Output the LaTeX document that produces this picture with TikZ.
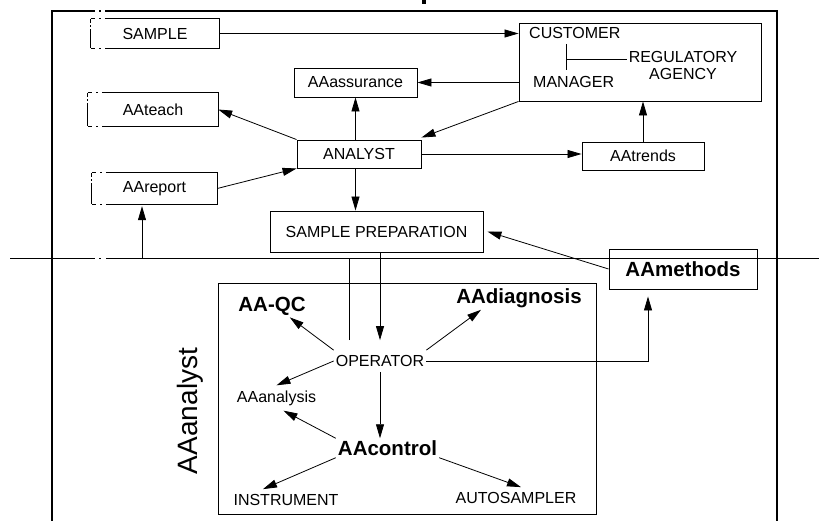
\documentclass[tikz,border=0pt]{standalone}
\usepackage{fontspec}
\setmainfont{Liberation Sans}
\usetikzlibrary{arrows.meta}

% box whose left edge is broken by the dash-dot fold line
\newcommand\cutbox[1]{%
  \draw[edge] ([xshift=14pt]#1.north west) -- (#1.north east) -- (#1.south east) -- ([xshift=14pt]#1.south west);
  \draw[edge] (#1.north west) -- ([xshift=4pt]#1.north west)
              ([xshift=8.5pt]#1.north west) -- ([xshift=10pt]#1.north west);
  \draw[edge] (#1.south west) -- ([xshift=4pt]#1.south west)
              ([xshift=8.5pt]#1.south west) -- ([xshift=10pt]#1.south west);
  \draw[edge, dash pattern=on 4pt off 2.5pt on 1.5pt off 2.5pt on 100pt] (#1.north west) -- (#1.south west);
}

\begin{document}
\begin{tikzpicture}[x=1pt,y=-1pt,
  every node/.style={font=\fontsize{16}{17.5}\selectfont, inner sep=2pt},
  edge/.style={line width=0.9pt},
  box/.style={draw, line width=0.9pt, inner sep=0pt},
  hollow/.style={inner sep=0pt},
  big/.style={font=\fontsize{20.5}{24}\selectfont\bfseries},
  tag/.style={inner xsep=2pt, inner ysep=5pt},
  arr/.style={line width=0.8pt, -{Triangle[length=14pt,width=8pt]}},
  wire/.style={line width=0.8pt},
  frame/.style={line width=1.4pt}]

\useasboundingbox (0,0) rectangle (819,521);

% stroke of the heading that runs off the top edge
\fill (422,-2) rectangle (426,4);

% outer frame and the dash-dot fold line
\draw[frame] (52,530) -- (52,11) -- (95,11);
\draw[frame] (99,11) -- (101,11);
\draw[frame] (105,11) -- (777,11) -- (777,530);
\draw[wire] (10,258) -- (95,258);
\draw[wire] (99,258) -- (101,258);
\draw[wire] (106,258) -- (819,258);

% upper level
\node[hollow, minimum width=128pt, minimum height=29pt] (sample) at (155,33.5) {SAMPLE};
\node[hollow, minimum width=130pt, minimum height=33pt] (teach) at (153,109.5) {AAteach};
\node[hollow, minimum width=125pt, minimum height=31pt] (report) at (154.5,188.5) {AAreport};
\cutbox{sample}
\cutbox{teach}
\cutbox{report}

\node[box, minimum width=123pt, minimum height=29pt] (assur) at (355.5,82.5) {AAassurance};
\node[box, minimum width=124pt, minimum height=28pt] (analyst) at (359,154) {ANALYST};
\node[box, minimum width=242pt, minimum height=78pt] (cust) at (640,62) {};
\node[anchor=west] (custT) at (527,33) {CUSTOMER};
\node[anchor=west] (mgr) at (531,82) {MANAGER};
\node[align=center] (reg) at (683,65.5) {REGULATORY\\AGENCY};
\node[box, minimum width=122pt, minimum height=28pt] (trends) at (643,156) {AAtrends};
\node[box, minimum width=213pt, minimum height=41pt] (prep) at (376.5,231.5) {SAMPLE PREPARATION};
\node[box, big, minimum width=148pt, minimum height=40pt] (methods) at (683,269) {AAmethods};

% lower level
\node[box, minimum width=378pt, minimum height=231pt] (lower) at (407,398.5) {};
\node[rotate=90, font=\fontsize{28}{30}\selectfont] (lbl) at (190,411) {AAanalyst};
\node[big] (qc) at (272,306) {AA-QC};
\node[big] (diag) at (519,298) {AAdiagnosis};
\node[big] (control) at (387.5,448) {AAcontrol};
\node[tag] (op) at (380,361) {OPERATOR};
\node[tag] (analysis) at (276.5,398) {AAanalysis};
\node[tag] (instr) at (286,500) {INSTRUMENT};
\node[tag] (auto) at (516,498) {AUTOSAMPLER};

% customer / manager / agency links
\coordinate (j) at (566,59);
\draw[wire, shorten <=3pt, shorten >=4pt] (j |- custT.south) -- (j |- mgr.north);
\draw[wire] (j) -- (j -| reg.west);

% upper connectors
\draw[arr] (sample.east) -- (sample.east -| cust.west);
\draw[arr] (assur.east -| cust.west) -- (assur.east);
\draw[arr] (cust.south west) -- ([yshift=2pt]analyst.north east);
\draw[arr] (analyst.north -| assur.south) -- (assur.south);
\draw[arr] (analyst.north west) -- (teach.east);
\draw[arr] (report.east) -- (analyst.south west);
\draw[arr] (analyst.east) -- (analyst.east -| trends.west);
\draw[arr] (trends.north) -- (trends.north |- cust.south);
\draw[arr] (analyst.south -| assur.south) -- (prep.north -| assur.south);
\draw[arr] (methods.west) -- ([xshift=4pt]prep.east);

% between the levels
\coordinate (hl) at (0,258);
\coordinate (rep) at ([xshift=-12.5pt,yshift=-2pt]report.south);
\draw[arr] (prep.south -| op.north) -- ([yshift=10pt]op.north);
\draw[arr] ([xshift=-31pt,yshift=10pt]op.north) |- (rep |- hl) -- (rep);
\draw[arr] (op.east) -| ([xshift=-35pt,yshift=-7pt]methods.south);

% lower connectors
\draw[arr] (op.north west) -- ([xshift=-18pt]qc.south east);
\draw[arr] (op.north east) -- ([xshift=-38pt]diag.south);
\draw[arr] (op.west) -- (analysis.north);
\draw[arr] (op.south) -- (op.south |- control.north);
\draw[arr] (control.north west) -- ([xshift=7pt]analysis.south);
\draw[arr] (control.south west) -- ([xshift=-23pt]instr.north);
\draw[arr] (control.south east) -- ([xshift=5pt]auto.north);

\end{tikzpicture}
\end{document}
